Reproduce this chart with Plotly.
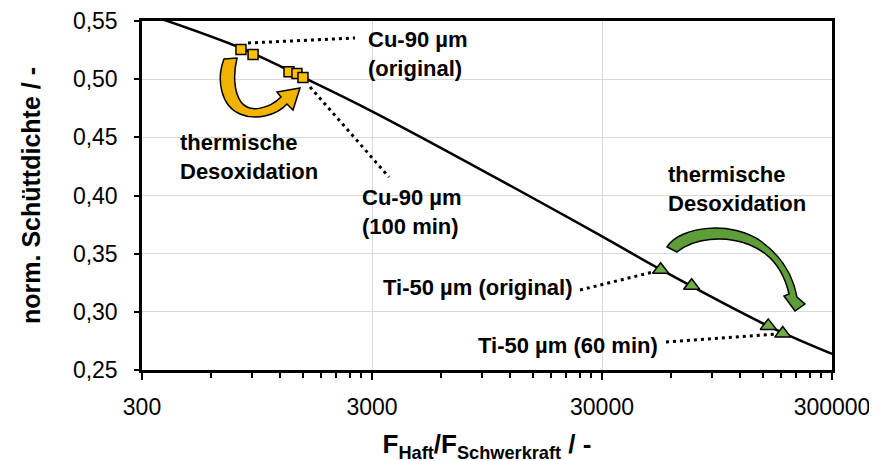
import math
import plotly.graph_objects as go

# ---------------- data ----------------
cu_x = [808, 912, 1307, 1415, 1503]
cu_y = [0.5256, 0.5213, 0.5063, 0.5049, 0.5015]
ti_x = [53950, 73600, 158500, 183200]
ti_y = [0.3362, 0.3224, 0.2879, 0.2813]
trend_x = [359, 808, 1503, 3000, 26600, 54150, 158000, 300000]
trend_y = [0.5522, 0.5267, 0.5017, 0.4724, 0.3707, 0.3362, 0.2879, 0.2638]
x_tickvals = [300, 3000, 30000, 300000]
x_ticktext = ["300", "3000", "30000", "300000"]
y_tickvals = [0.25, 0.30, 0.35, 0.40, 0.45, 0.50, 0.55]

# ---------------- geometry helpers (decorations only) ----------------
W, H = 877, 461
OFF = 8                      # browser body margin
SL, ST = 142, 21             # plot-area top-left as seen on screen
PW, PH = 690, 349
ML, MT = SL - OFF, ST - OFF
MR, MB = W - ML - PW, H - MT - PH
XR = [math.log10(300), math.log10(300000)]
YR = [0.25, 0.55]


def dx(px):
    return 10 ** (XR[0] + (px - SL) / PW * (XR[1] - XR[0]))


def dy(py):
    return YR[1] - (py - ST) / PH * (YR[1] - YR[0])


def pp(px, py):
    return f"{(px - SL) / PW:.5f},{(ST + PH - py) / PH:.5f}"


def path(cmds):
    out = []
    for c in cmds:
        if isinstance(c, str):
            out.append(c)
        else:
            out.append(pp(*c))
    return " ".join(out)


FONT = "Arial, Liberation Sans, sans-serif"
fig = go.Figure()

# trend line
fig.add_trace(go.Scatter(x=trend_x, y=trend_y, mode="lines",
                         line=dict(color="black", width=2.5, shape="spline", smoothing=1.0),
                         hoverinfo="skip", showlegend=False))

# leader lines (dotted)
leaders = [((248, 43), (355, 38)), ((310, 87), (389, 177)),
           ((580, 290), (657, 271)), ((666, 342), (778, 334))]
for (a, b) in leaders:
    fig.add_trace(go.Scatter(x=[dx(a[0]), dx(b[0])], y=[dy(a[1]), dy(b[1])], mode="lines",
                             line=dict(color="black", width=3, dash="3px,4px"),
                             hoverinfo="skip", showlegend=False))

# markers
fig.add_trace(go.Scatter(x=cu_x, y=cu_y, mode="markers",
                         marker=dict(symbol="square", size=10, color="#FFC000",
                                     line=dict(color="black", width=1.5)),
                         showlegend=False))
fig.add_trace(go.Scatter(x=ti_x, y=ti_y, mode="markers",
                         marker=dict(symbol="triangle-up", size=14, color="#70AD47",
                                     line=dict(color="black", width=1.5)),
                         showlegend=False))

# curved arrows
orange = path(["M", (224, 59), "C", (216, 80), (221, 106), (240, 114),
               "C", (256, 121), (277, 115), (287, 104),
               "L", (293, 110), "L", (300, 88), "L", (277, 92), "L", (281, 97),
               "C", (270, 108), (250, 114), (241, 102),
               "C", (234, 92), (233, 75), (237, 58), "Z"])
green = path(["M", (667, 247), "C", (680, 226), (732, 220), (762, 242),
              "C", (781, 256), (793, 276), (797, 297),
              "L", (805, 304), "L", (795, 311), "L", (784, 296), "L", (789, 294),
              "C", (784, 272), (772, 254), (750, 245),
              "C", (724, 235), (694, 238), (677, 252), "Z"])
shapes = [
    dict(type="path", xref="paper", yref="paper", path=orange,
         fillcolor="#F0B400", line=dict(color="black", width=1.5), layer="above"),
    dict(type="path", xref="paper", yref="paper", path=green,
         fillcolor="#5E9E38", line=dict(color="black", width=1.5), layer="above"),
]

# text labels
def label(px, py, text):
    x, y = pp(px, py).split(",")
    return dict(x=float(x), y=float(y), xref="paper", yref="paper", text=text,
                showarrow=False, xanchor="left", yanchor="middle", align="left",
                font=dict(family=FONT, size=22, color="black"))

annotations = [
    label(366, 54, "<b>Cu-90 µm<br>(original)</b>"),
    label(360, 212, "<b>Cu-90 µm<br>(100 min)</b>"),
    label(178, 157, "<b>thermische<br>Desoxidation</b>"),
    label(666, 189, "<b>thermische<br>Desoxidation</b>"),
    label(381, 288, "<b>Ti-50 µm (original)</b>"),
    label(476, 346, "<b>Ti-50 µm (60 min)</b>"),
]

minor_vals = [k * 300 * 10 ** n for n in range(3) for k in range(2, 10)]

fig.update_layout(
    width=W, height=H,
    margin=dict(l=ML, r=MR, t=MT, b=MB),
    paper_bgcolor="white", plot_bgcolor="white",
    separators=",.",
    font=dict(family=FONT, size=22, color="black"),
    shapes=shapes, annotations=annotations,
    xaxis=dict(type="log", range=XR, tickvals=x_tickvals, ticktext=x_ticktext,
               automargin=False,
               ticks="outside", ticklen=7, tickwidth=2, tickcolor="black",
               ticklabelstandoff=8,
               showline=True, linewidth=2.5, linecolor="black", mirror=True,
               showgrid=True, gridcolor="#D9D9D9", gridwidth=1,
               tickfont=dict(family=FONT, size=23),
               minor=dict(tickvals=minor_vals, ticks="outside", ticklen=5,
                          tickwidth=2, tickcolor="black", showgrid=False),
               title=dict(text="<b>F<sub>Haft</sub>/F<sub>Schwerkraft</sub> / -</b>",
                          font=dict(family=FONT, size=26), standoff=16)),
    yaxis=dict(range=YR, tickvals=y_tickvals, tickformat=".2f",
               automargin=False,
               ticks="outside", ticklen=5, tickwidth=2, tickcolor="black",
               ticklabelstandoff=12,
               showline=True, linewidth=2.5, linecolor="black", mirror=True,
               showgrid=True, gridcolor="#D9D9D9", gridwidth=1,
               zeroline=False,
               tickfont=dict(family=FONT, size=23),
               title=dict(text="<b>norm. Schüttdichte / -</b>",
                          font=dict(family=FONT, size=25), standoff=26)),
)

fig.write_html("out.html")
